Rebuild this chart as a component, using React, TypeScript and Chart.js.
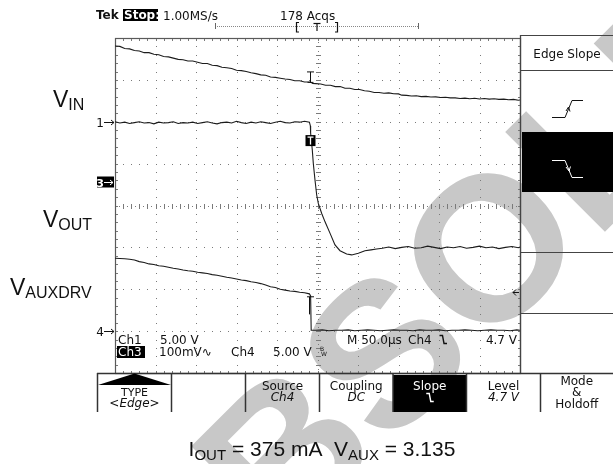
import { useEffect, useRef } from 'react';
import { Chart, registerables } from 'chart.js';

Chart.register(...registerables);

// ---- axes: 50 µs/div over 10 divisions, 8 vertical divisions ----
const timeMin = 0;
const timeMax = 500;
const divMin = -4;
const divMax = 4;

// ---- V_IN trace (top) ----
const vinTime = [0, 6, 12, 18, 24, 30, 36, 42, 48, 54, 60, 66, 72, 78, 84, 90, 96, 102, 108, 114, 120, 126, 132, 138, 144, 150, 156, 162, 168, 174, 180, 186, 192, 198, 204, 210, 216, 222, 228, 234, 240, 242, 244, 248, 254, 260, 266, 272, 278, 284, 290, 296, 302, 308, 314, 320, 326, 332, 338, 344, 350, 354, 360, 366, 372, 378, 384, 390, 396, 402, 408, 414, 420, 426, 432, 438, 444, 450, 456, 462, 468, 474, 480, 486, 492, 498, 500];
const vinDiv = [3.81, 3.80, 3.75, 3.74, 3.70, 3.69, 3.65, 3.65, 3.61, 3.60, 3.56, 3.55, 3.52, 3.49, 3.48, 3.45, 3.45, 3.42, 3.39, 3.39, 3.35, 3.34, 3.30, 3.29, 3.27, 3.23, 3.22, 3.20, 3.17, 3.15, 3.12, 3.11, 3.07, 3.06, 3.04, 3.02, 3.01, 2.98, 2.98, 2.95, 2.95, 2.94, 2.915, 2.91, 2.90, 2.87, 2.87, 2.84, 2.84, 2.80, 2.80, 2.77, 2.77, 2.74, 2.73, 2.70, 2.70, 2.68, 2.69, 2.67, 2.665, 2.635, 2.63, 2.615, 2.62, 2.60, 2.605, 2.59, 2.595, 2.58, 2.585, 2.57, 2.57, 2.555, 2.565, 2.55, 2.56, 2.545, 2.555, 2.54, 2.55, 2.535, 2.54, 2.525, 2.535, 2.515, 2.52];

// ---- Ch1 trace (middle, drops at trigger) ----
const outTime = [0, 6, 12, 18, 24, 30, 36, 42, 48, 54, 60, 66, 72, 78, 84, 90, 96, 102, 108, 114, 120, 126, 132, 138, 144, 150, 156, 162, 168, 174, 180, 186, 192, 198, 204, 210, 216, 222, 228, 234, 240, 241.2, 241.5, 243.6, 244.8, 246.9, 249, 251, 255.2, 259.3, 265.4, 271.6, 277.8, 286, 292.2, 300.4, 308.6, 316, 323, 330, 338, 346, 354, 362, 370, 378, 386, 394, 402, 410, 418, 426, 434, 442, 450, 458, 466, 474, 482, 490, 498, 500];
const outDiv = [2.00, 1.97, 1.99, 1.96, 1.98, 2.00, 1.97, 1.98, 1.95, 1.99, 1.97, 1.98, 2.00, 1.96, 1.98, 1.97, 1.99, 1.96, 1.98, 2.00, 1.97, 1.95, 1.98, 1.99, 1.97, 2.01, 1.98, 1.96, 1.99, 1.97, 2.00, 1.98, 1.96, 1.99, 2.01, 1.98, 1.97, 2.00, 1.99, 2.01, 1.99, 1.90, 1.73, 1.32, 1.01, 0.61, 0.25, 0.05, -0.19, -0.39, -0.66, -0.94, -1.08, -1.16, -1.18, -1.14, -1.08, -1.06, -1.04, -1.02, -0.99, -1.03, -1.00, -0.98, -1.02, -1.01, -0.97, -1.00, -1.03, -0.99, -1.01, -0.98, -1.02, -1.00, -0.97, -1.01, -0.99, -1.03, -1.00, -0.98, -1.01, -0.99];

// ---- V_AUXDRV trace (bottom) ----
const auxTime = [0, 6, 12, 18, 24, 30, 36, 42, 48, 54, 60, 66, 72, 78, 84, 90, 96, 102, 108, 114, 120, 126, 132, 138, 144, 150, 156, 162, 168, 174, 180, 186, 192, 198, 204, 210, 216, 222, 228, 234, 240, 241.5, 242.2, 248, 256, 264, 272, 280, 288, 296, 304, 312, 320, 328, 336, 344, 352, 360, 368, 376, 384, 392, 400, 408, 416, 424, 432, 440, 448, 456, 464, 472, 480, 488, 496, 500];
const auxDiv = [-1.26, -1.265, -1.27, -1.285, -1.30, -1.34, -1.36, -1.395, -1.41, -1.44, -1.45, -1.475, -1.50, -1.515, -1.54, -1.56, -1.57, -1.595, -1.61, -1.625, -1.65, -1.665, -1.69, -1.715, -1.73, -1.755, -1.78, -1.795, -1.82, -1.84, -1.865, -1.90, -1.94, -1.96, -2.00, -2.02, -2.04, -2.05, -2.07, -2.085, -2.11, -2.16, -2.98, -2.98, -2.97, -2.99, -2.98, -2.98, -2.97, -2.99, -2.98, -2.97, -2.98, -2.99, -2.98, -2.97, -2.98, -2.98, -2.99, -2.97, -2.98, -2.98, -2.97, -2.99, -2.98, -2.98, -2.97, -2.98, -2.99, -2.98, -2.97, -2.98, -2.98, -2.99, -2.97, -2.98];

// ---- markers (in axis units) ----
const triggerTime = 241;
const ch1GroundDiv = 2.0;
const ch3GroundDiv = 0.57;
const ch4GroundDiv = -3.0;
const trigLevelDiv = -2.06;
const vinCursorDiv = [3.19, 2.94];
const trigBoxDiv = 1.55;
const auxCursorDiv = [-2.18, -2.6];

// ---- texts ----
const headerTexts = ['Tek', 'Stop:', '1.00MS/s', '178 Acqs'];
const readoutRow1 = ['Ch1', '5.00 V', 'M 50.0µs', 'Ch4', '4.7 V'];
const readoutRow2 = ['Ch3', '100mV∿', 'Ch4', '5.00 V'];
const bottomMenu = [['TYPE', '<Edge>'], [], ['Source', 'Ch4'], ['Coupling', 'DC'], ['Slope', ''], ['Level', '4.7 V'], ['Mode', '&', 'Holdoff']];
const sideTitle = 'Edge Slope';
const chanLabels = [['V', 'IN'], ['V', 'OUT'], ['V', 'AUXDRV']];
const footer = [['I', 'OUT'], [' = 375 mA  V', 'AUX'], [' = 3.135', '']];
const watermarkWord = 'OBSOLETE';

const SCOPE = '"DejaVu Sans", "Liberation Sans", sans-serif';
const SANS = '"Liberation Sans", Arial, Helvetica, sans-serif';
const TRACE = '#1c1c1c';
const GRID = '#7a7a7a';

function text(ctx: any, s: string, x: number, y: number, font: string, color = '#111', align: any = 'left') {
  ctx.font = font;
  ctx.fillStyle = color;
  ctx.textAlign = align;
  ctx.textBaseline = 'alphabetic';
  ctx.fillText(s, x, y);
}

function line(ctx: any, pts: number[][], color = '#111', w = 1) {
  ctx.beginPath();
  ctx.strokeStyle = color;
  ctx.lineWidth = w;
  pts.forEach((p, i) => (i ? ctx.lineTo(p[0], p[1]) : ctx.moveTo(p[0], p[1])));
  ctx.stroke();
}

function fallSymbol(ctx: any, x: number, y: number, color: string) {
  line(ctx, [[x, y], [x + 3, y], [x + 4.5, y + 8], [x + 7.5, y + 8]], color, 1.4);
}

function arrowRight(ctx: any, x0: number, x1: number, y: number, color: string) {
  line(ctx, [[x0, y + 0.5], [x1, y + 0.5]], color, 1);
  line(ctx, [[x1 - 3, y - 2], [x1, y + 0.5], [x1 - 3, y + 3]], color, 1);
}

function drawWatermark(ctx: any) {
  ctx.save();
  ctx.fillStyle = '#c8c8c8';
  const size = 205;
  ctx.font = `bold ${size}px ${SANS}`;
  ctx.textAlign = 'left';
  ctx.textBaseline = 'alphabetic';
  const u = ctx.measureText('OBS').width + ctx.measureText('O').width / 2;
  ctx.translate(487, 246);
  ctx.rotate(-Math.PI / 4);
  ctx.fillText(watermarkWord, -u, 0.716 * size / 2);
  ctx.restore();
}

function drawGrid(chart: any) {
  const ctx = chart.ctx;
  const xs = chart.scales.x;
  const ys = chart.scales.y;
  const { left, right, top, bottom } = chart.chartArea;
  const xDiv = (timeMax - timeMin) / 10;
  ctx.save();
  ctx.fillStyle = GRID;
  for (let i = 1; i < 10; i++) {
    if (i === 5) continue;
    const px = Math.round(xs.getPixelForValue(timeMin + i * xDiv));
    for (let j = 0; j <= 40; j++) ctx.fillRect(px, Math.round(ys.getPixelForValue(divMin + j * 0.2)), 1, 1);
  }
  for (let j = 1; j < 8; j++) {
    if (j === 4) continue;
    const py = Math.round(ys.getPixelForValue(divMin + j));
    for (let i = 0; i <= 50; i++) ctx.fillRect(Math.round(xs.getPixelForValue(timeMin + i * xDiv / 5)), py, 1, 1);
  }
  const cx = Math.round(xs.getPixelForValue((timeMin + timeMax) / 2));
  const cy = Math.round(ys.getPixelForValue(0));
  for (let j = 0; j <= 80; j++) {
    const py = Math.round(ys.getPixelForValue(divMin + j * 0.1));
    if (j % 2 === 0) ctx.fillRect(cx - 2, py, 5, 1);
    else ctx.fillRect(cx, py, 1, 1);
  }
  for (let i = 0; i <= 100; i++) {
    const px = Math.round(xs.getPixelForValue(timeMin + i * xDiv / 10));
    if (i % 2 === 0) ctx.fillRect(px, cy - 2, 1, 5);
    else ctx.fillRect(px, cy, 1, 1);
  }
  // border ticks
  for (let i = 0; i <= 50; i++) {
    const px = Math.round(xs.getPixelForValue(timeMin + i * xDiv / 5));
    ctx.fillRect(px, top + 1, 1, 2);
    ctx.fillRect(px, bottom - 2, 1, 2);
  }
  for (let j = 0; j <= 40; j++) {
    const py = Math.round(ys.getPixelForValue(divMin + j * 0.2));
    ctx.fillRect(left + 1, py, 2, 1);
    ctx.fillRect(right - 2, py, 2, 1);
  }
  ctx.strokeStyle = '#5a5a5a';
  ctx.lineWidth = 1.2;
  ctx.strokeRect(left + 0.5, top + 0.5, right - left, bottom - top);
  ctx.restore();
}

function drawOverlay(chart: any) {
  const ctx = chart.ctx;
  const xs = chart.scales.x;
  const ys = chart.scales.y;
  const { right, bottom } = chart.chartArea;
  const W = chart.width;
  ctx.save();
  const f12 = `12px ${SCOPE}`;

  // trigger cursors
  const tx = Math.round(xs.getPixelForValue(triggerTime)) + 0.5;
  const v0 = ys.getPixelForValue(vinCursorDiv[0]);
  const v1 = ys.getPixelForValue(vinCursorDiv[1]);
  line(ctx, [[tx - 3.5, v0], [tx + 3.5, v0]], '#111', 1);
  line(ctx, [[tx, v0], [tx, v1]], '#111', 1);
  line(ctx, [[tx - 3, v1], [tx + 3, v1]], '#111', 1);
  const a0 = ys.getPixelForValue(auxCursorDiv[0]);
  const a1 = ys.getPixelForValue(auxCursorDiv[1]);
  line(ctx, [[tx - 3.5, a0], [tx + 3.5, a0]], '#111', 1);
  line(ctx, [[tx - 1, a0], [tx - 1, a1]], '#111', 1);
  const tb = ys.getPixelForValue(trigBoxDiv);
  ctx.fillStyle = '#000';
  ctx.fillRect(tx - 5, tb - 5.5, 10, 11);
  line(ctx, [[tx - 3, tb - 3.5], [tx + 3, tb - 3.5]], '#fff', 1.3);
  line(ctx, [[tx, tb - 3.5], [tx, tb + 4]], '#fff', 1.3);

  // channel ground markers
  const y1 = Math.round(ys.getPixelForValue(ch1GroundDiv));
  text(ctx, '1', 104, y1 + 4.5, f12, '#111', 'right');
  arrowRight(ctx, 104, 114, y1, '#111');
  const y3 = Math.round(ys.getPixelForValue(ch3GroundDiv));
  ctx.fillStyle = '#000';
  ctx.fillRect(97, y3 - 5.5, 17, 11);
  text(ctx, '3', 104, y3 + 4.5, `bold 11px ${SCOPE}`, '#fff', 'right');
  arrowRight(ctx, 104, 113, y3, '#fff');
  const y4 = Math.round(ys.getPixelForValue(ch4GroundDiv));
  text(ctx, '4', 104, y4 + 4.5, f12, '#111', 'right');
  arrowRight(ctx, 104, 114, y4, '#111');

  // trigger level arrow
  const yl = Math.round(ys.getPixelForValue(trigLevelDiv)) + 0.5;
  line(ctx, [[right - 7, yl], [right - 1, yl]], '#111', 1);
  line(ctx, [[right - 4, yl - 3], [right - 7, yl], [right - 4, yl + 3]], '#111', 1);

  // readouts
  text(ctx, readoutRow1[0], 118, 344, f12);
  text(ctx, readoutRow1[1], 160, 344, f12);
  text(ctx, readoutRow1[2], 347, 344, f12);
  text(ctx, readoutRow1[3], 408, 344, f12);
  fallSymbol(ctx, 439.5, 335.5, '#111');
  text(ctx, readoutRow1[4], 517, 344, f12, '#111', 'right');
  ctx.fillStyle = '#000';
  ctx.fillRect(117, 346, 28, 12);
  text(ctx, readoutRow2[0], 118, 356, f12, '#fff');
  text(ctx, readoutRow2[1], 159, 356, f12);
  text(ctx, readoutRow2[2], 231, 356, f12);
  text(ctx, readoutRow2[3], 273, 356, f12);
  text(ctx, 'B', 320, 351, `6px ${SCOPE}`);
  text(ctx, 'W', 321, 356, `6px ${SCOPE}`);

  // header
  text(ctx, headerTexts[0], 96, 19, `bold 12px ${SCOPE}`);
  ctx.fillStyle = '#000';
  ctx.fillRect(123, 9, 35, 12);
  text(ctx, headerTexts[1], 124, 19, `bold 12px ${SCOPE}`, '#fff');
  text(ctx, headerTexts[2], 163, 20, f12);
  text(ctx, headerTexts[3], 280, 20, f12);
  ctx.fillStyle = '#888';
  for (let x = 215; x <= 418; x += 2) ctx.fillRect(x, 26, 1, 1);
  ctx.fillStyle = '#666';
  ctx.fillRect(215, 23, 1, 6);
  ctx.fillRect(418, 23, 1, 6);
  line(ctx, [[299, 22.5], [296.5, 22.5], [296.5, 32], [299, 32]], '#111', 1.2);
  line(ctx, [[335, 22.5], [337.5, 22.5], [337.5, 32], [335, 32]], '#111', 1.2);
  line(ctx, [[313.5, 23.5], [320.5, 23.5]], '#111', 1.2);
  line(ctx, [[317, 23.5], [317, 31]], '#111', 1.2);

  // side menu
  ctx.fillStyle = '#000';
  ctx.fillRect(522, 132, W - 522, 60);
  line(ctx, [[right + 0.5, 35], [right + 0.5, bottom]], '#444', 1.3);
  line(ctx, [[right, 35.5], [W, 35.5]], '#444', 1.2);
  line(ctx, [[right, 70.5], [W, 70.5]], '#444', 1.2);
  line(ctx, [[right, 252.5], [W, 252.5]], '#444', 1.2);
  line(ctx, [[right, 313.5], [W, 313.5]], '#444', 1.2);
  text(ctx, sideTitle, 567, 58, f12, '#111', 'center');
  line(ctx, [[552, 117.5], [565, 117.5], [572, 100.5], [583, 100.5]], '#111', 1);
  line(ctx, [[566, 111], [568.5, 107], [570, 111.5]], '#111', 1);
  line(ctx, [[552, 160.5], [565, 160.5], [572, 177.5], [583, 177.5]], '#fff', 1);
  line(ctx, [[566, 167], [569, 171], [570.5, 166.5]], '#fff', 1);

  // bottom menu
  const edges = [97.5, 171.5, 245.5, 319.5, 393, 466.5, 540.5, W];
  ctx.fillStyle = '#000';
  ctx.fillRect(393, 375, 73.5, 37);
  line(ctx, [[97, bottom + 0.5], [W, bottom + 0.5]], '#333', 1.5);
  edges.slice(0, 7).forEach((e) => line(ctx, [[e, bottom], [e, 412]], '#333', 1.5));
  ctx.beginPath();
  ctx.fillStyle = '#000';
  ctx.moveTo(98, 385);
  ctx.lineTo(171, 385);
  ctx.lineTo(134.5, 373.5);
  ctx.closePath();
  ctx.fill();
  bottomMenu.forEach((item, i) => {
    const c = (edges[i] + edges[i + 1]) / 2;
    if (i === 0) {
      text(ctx, item[0], c, 396, `11px ${SCOPE}`, '#111', 'center');
      text(ctx, item[1], c, 407, `italic 12px ${SCOPE}`, '#111', 'center');
    } else if (i === 4) {
      text(ctx, item[0], c, 390, f12, '#fff', 'center');
      fallSymbol(ctx, c - 3.5, 393.5, '#fff');
    } else if (i === 6) {
      text(ctx, item[0], c, 385, f12, '#111', 'center');
      text(ctx, item[1], c, 396, f12, '#111', 'center');
      text(ctx, item[2], c, 408, f12, '#111', 'center');
    } else if (item.length) {
      text(ctx, item[0], c, 390, f12, '#111', 'center');
      text(ctx, item[1], c, 401, `italic 12px ${SCOPE}`, '#111', 'center');
    }
  });

  // left channel labels
  const labelPos = [[53, 107], [43, 227], [10, 295]];
  chanLabels.forEach((lab, i) => {
    const [x, y] = labelPos[i];
    text(ctx, lab[0], x, y, `23px ${SANS}`);
    const w = ctx.measureText(lab[0]).width;
    text(ctx, lab[1], x + w, y + 3, `16px ${SANS}`);
  });

  // footer
  const big = `21px ${SANS}`;
  const small = `15px ${SANS}`;
  let total = 0;
  footer.forEach((seg) => {
    ctx.font = big;
    total += ctx.measureText(seg[0]).width;
    ctx.font = small;
    total += ctx.measureText(seg[1]).width;
  });
  let fx = 322 - total / 2;
  footer.forEach((seg) => {
    text(ctx, seg[0], fx, 456, big);
    fx += ctx.measureText(seg[0]).width;
    text(ctx, seg[1], fx, 460, small);
    fx += ctx.measureText(seg[1]).width;
  });
  ctx.restore();
}

const scopePlugin = {
  id: 'scopeScreen',
  beforeDraw(chart: any) {
    const ctx = chart.ctx;
    ctx.save();
    ctx.fillStyle = '#fff';
    ctx.fillRect(0, 0, chart.width, chart.height);
    drawWatermark(ctx);
    ctx.restore();
  },
  beforeDatasetsDraw(chart: any) {
    drawGrid(chart);
  },
  afterDatasetsDraw(chart: any) {
    drawOverlay(chart);
  },
};

function pts(t: number[], v: number[]) {
  return t.map((x, i) => ({ x, y: v[i] }));
}

export default function App() {
  const ref = useRef<HTMLCanvasElement>(null);
  useEffect(() => {
    const canvas = ref.current;
    if (!canvas) return;
    const ds = (data: any) => ({ data, borderColor: TRACE, borderWidth: 1.1, pointRadius: 0, tension: 0, fill: false });
    const chart = new Chart(canvas, {
      type: 'line',
      data: { datasets: [ds(pts(vinTime, vinDiv)), ds(pts(outTime, outDiv)), ds(pts(auxTime, auxDiv))] },
      options: {
        animation: false,
        responsive: false,
        maintainAspectRatio: false,
        devicePixelRatio: 1,
        events: [],
        layout: { padding: { left: 115, right: 93, top: 38, bottom: 91 } },
        scales: {
          x: { type: 'linear', min: timeMin, max: timeMax, display: false },
          y: { type: 'linear', min: divMin, max: divMax, display: false },
        },
        plugins: { legend: { display: false }, tooltip: { enabled: false } },
      },
      plugins: [scopePlugin],
    } as any);
    return () => chart.destroy();
  }, []);
  return (
    <div style={{ position: 'absolute', left: 0, top: 0, width: 613, height: 464 }}>
      <canvas ref={ref} width={613} height={464} style={{ display: 'block' }} />
    </div>
  );
}
